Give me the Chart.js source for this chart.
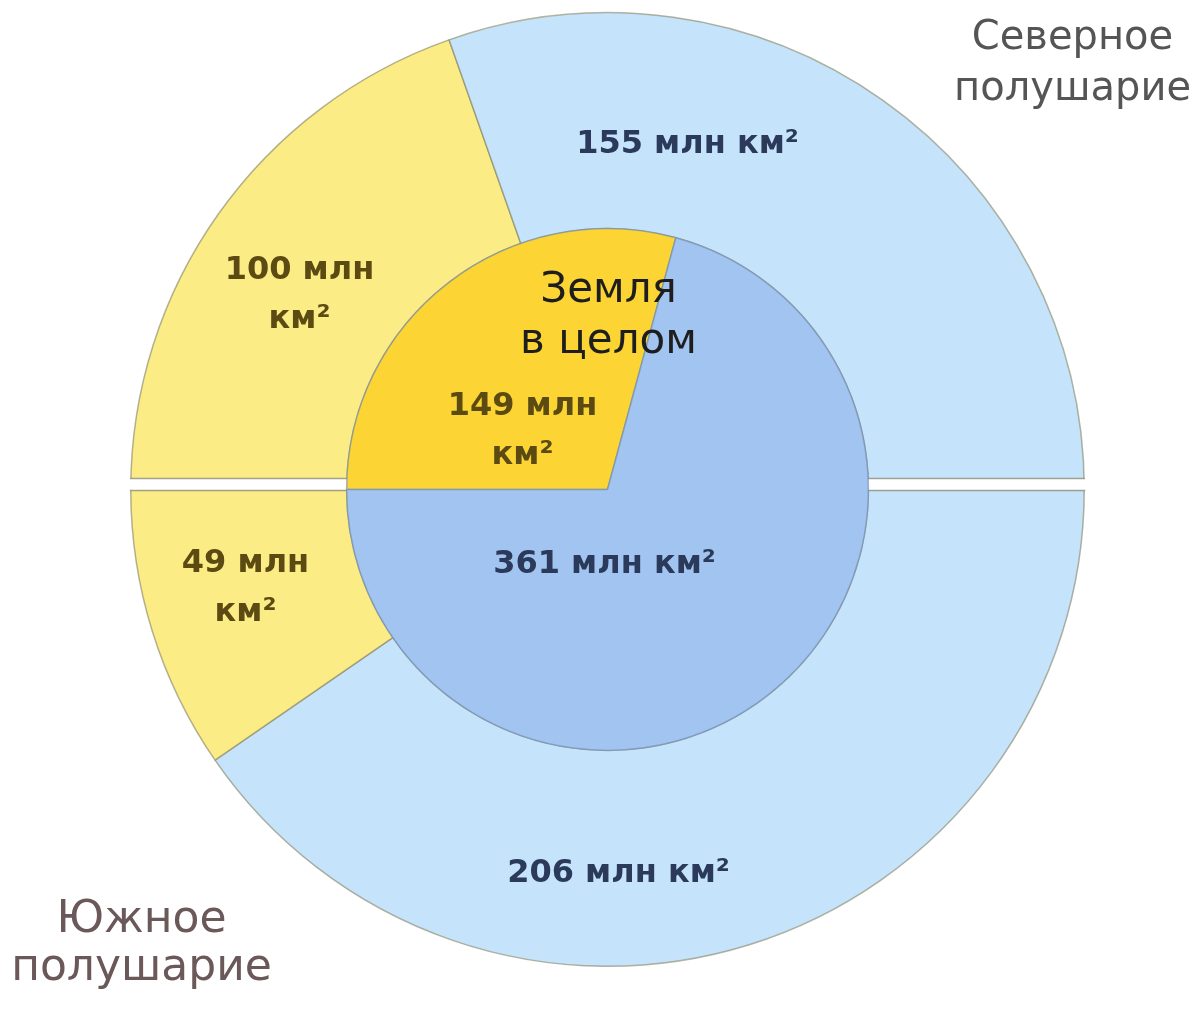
<!DOCTYPE html>
<html>
<head>
<meta charset="utf-8">
<script src="https://cdn.jsdelivr.net/npm/chart.js@4/dist/chart.umd.min.js"></script>
<style>
  html, body { margin: 0; padding: 0; background: #fff; }
  #wrap { width: 1198px; height: 1009px; }
</style>
</head>
<body>
<div id="wrap"><canvas id="earthChart" width="1198" height="1009"></canvas></div>
<script>
// полушария: суша и океан (млн км²), по часовой стрелке с 9 часов
const hemiParts = ["Суша (север)", "Океан (север)", "Океан (юг)", "Суша (юг)"];
const hemiValues = [100, 155, 206, 49];

// Земля в целом
const earthParts = ["Суша", "Океан"];
const earthValues = [149, 361];

const landLight = "#fcec86";
const oceanLight = "#c5e3fa";
const landDark = "#fcd535";
const oceanDark = "#a2c4f0";

// подписи: смещение от центра круга (px)
const labels = [
  { lines: ["155 млн км²"], dx: 80, dy: -337, font: "bold 32px 'DejaVu Sans'", color: "#2b3a5a" },
  { lines: ["100 млн", "км²"], dx: -308, dy: -211, font: "bold 32px 'DejaVu Sans'", color: "#5b4a12" },
  { lines: ["149 млн", "км²"], dx: -85, dy: -75, font: "bold 32px 'DejaVu Sans'", color: "#5b4a12" },
  { lines: ["Земля", "в целом"], dx: 1, dy: -188, font: "42px 'DejaVu Sans'", color: "#1e1e1e", lineHeight: 51 },
  { lines: ["361 млн км²"], dx: -3, dy: 83, font: "bold 32px 'DejaVu Sans'", color: "#2b3a5a" },
  { lines: ["49 млн", "км²"], dx: -362, dy: 82, font: "bold 32px 'DejaVu Sans'", color: "#5b4a12" },
  { lines: ["206 млн км²"], dx: 11, dy: 392, font: "bold 32px 'DejaVu Sans'", color: "#2b3a5a" },
  { lines: ["Северное", "полушарие"], dx: 465, dy: -441, font: "40px 'DejaVu Sans'", color: "#555555", lineHeight: 51 },
  { lines: ["Южное", "полушарие"], dx: -466, dy: 442, font: "44px 'DejaVu Sans'", color: "#6b5858", lineHeight: 48 },
];

const gapTop = 11;
const gapBottom = 1;

// белая полоса между северным и южным полушарием
const gapPlugin = {
  id: "hemisphereGap",
  afterDatasetDraw(chart, args) {
    if (args.index !== 0) return;
    const arc = args.meta.data[0];
    const ctx = chart.ctx;
    const r = arc.outerRadius;
    ctx.save();
    ctx.beginPath();
    ctx.arc(arc.x, arc.y, r + 1, 0, Math.PI * 2);
    ctx.clip();
    ctx.fillStyle = "#fff";
    ctx.fillRect(arc.x - r - 2, arc.y - gapTop, 2 * r + 4, gapTop + gapBottom);
    ctx.strokeStyle = "rgba(140,140,120,0.8)";
    ctx.lineWidth = 1.5;
    ctx.beginPath();
    ctx.moveTo(arc.x - r - 2, arc.y - gapTop);
    ctx.lineTo(arc.x + r + 2, arc.y - gapTop);
    ctx.moveTo(arc.x - r - 2, arc.y + gapBottom);
    ctx.lineTo(arc.x + r + 2, arc.y + gapBottom);
    ctx.stroke();
    ctx.restore();
  },
};

const labelPlugin = {
  id: "areaLabels",
  afterDraw(chart) {
    const arc = chart.getDatasetMeta(0).data[0];
    const ctx = chart.ctx;
    ctx.save();
    ctx.textAlign = "center";
    ctx.textBaseline = "alphabetic";
    labels.forEach((lbl) => {
      ctx.font = lbl.font;
      ctx.fillStyle = lbl.color;
      const lh = lbl.lineHeight || 49;
      lbl.lines.forEach((line, i) => {
        ctx.fillText(line, arc.x + lbl.dx, arc.y + lbl.dy + i * lh);
      });
    });
    ctx.restore();
  },
};

const ctx = document.querySelector("#earthChart").getContext("2d");

new Chart(ctx, {
  type: "pie",
  data: {
    labels: hemiParts,
    datasets: [
      {
        data: hemiValues,
        backgroundColor: [landLight, oceanLight, oceanLight, landLight],
        borderColor: "rgba(130,130,100,0.6)",
        borderWidth: 1.5,
        weight: 216,
        order: 1,
      },
      {
        data: earthValues,
        backgroundColor: [landDark, oceanDark],
        borderColor: "rgba(110,135,170,0.6)",
        borderWidth: 1.5,
        weight: 261,
        order: 0,
      },
    ],
  },
  options: {
    responsive: false,
    animation: false,
    events: [],
    rotation: -90,
    layout: {
      padding: { left: 130, right: 113, top: 12, bottom: 42 },
    },
    plugins: {
      legend: { display: false },
      tooltip: { enabled: false },
    },
  },
  plugins: [gapPlugin, labelPlugin],
});
</script>
</body>
</html>
